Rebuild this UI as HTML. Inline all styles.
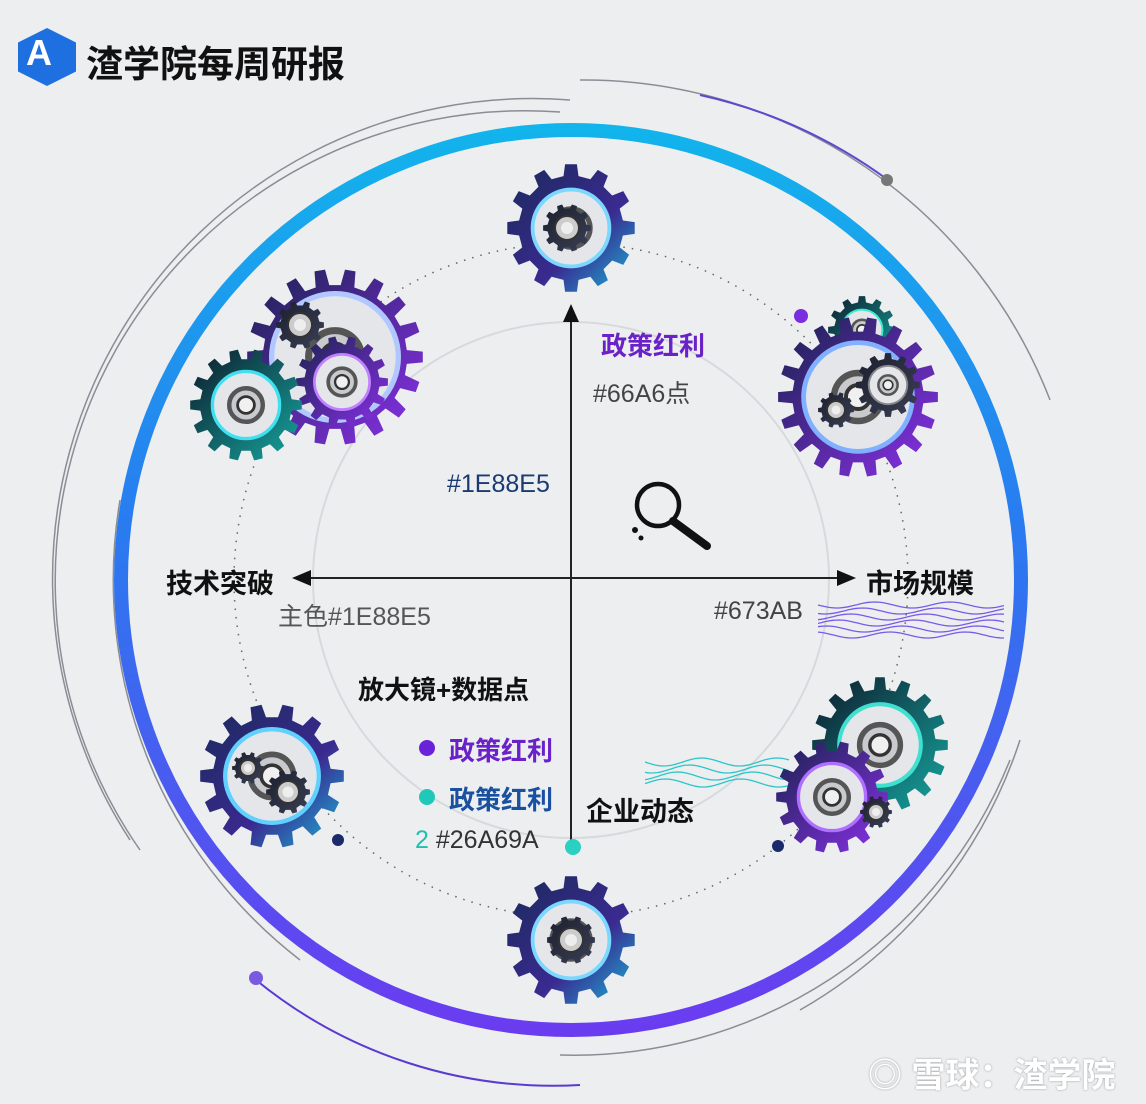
<!DOCTYPE html>
<html><head><meta charset="utf-8">
<style>
html,body{margin:0;padding:0;}
body{width:1146px;height:1104px;overflow:hidden;background:#eceef0;font-family:"Liberation Sans","Noto Sans CJK SC",sans-serif;position:relative;}
svg{position:absolute;left:0;top:0;}
.t{position:absolute;white-space:nowrap;}
.b{font-weight:bold;color:#111;}
</style></head><body>
<svg id="s" width="1146" height="1104" viewBox="0 0 1146 1104">
<defs>
<linearGradient id="ring" x1="0" y1="0" x2="0" y2="1">
<stop offset="0" stop-color="#12b4ec"/><stop offset="0.45" stop-color="#2a7af0"/><stop offset="1" stop-color="#6a3cf0"/>
</linearGradient>
<linearGradient id="ringL" x1="1" y1="0" x2="0" y2="1">
<stop offset="0" stop-color="#1ea0f0"/><stop offset="0.5" stop-color="#3a6af2"/><stop offset="1" stop-color="#7a3cf0"/>
</linearGradient>
<linearGradient id="gp" x1="0" y1="0" x2="1" y2="1"><stop offset="0" stop-color="#1a2250"/><stop offset="1" stop-color="#8a30e8"/></linearGradient>
<linearGradient id="gt" x1="0" y1="0" x2="1" y2="1"><stop offset="0" stop-color="#0d1a2a"/><stop offset="1" stop-color="#16a6a0"/></linearGradient>
<linearGradient id="gb" x1="0" y1="0" x2="1" y2="1"><stop offset="0" stop-color="#1a2a5a"/><stop offset="0.6" stop-color="#3a2a90"/><stop offset="1" stop-color="#19b6d8"/></linearGradient>
<linearGradient id="gd" x1="0" y1="0" x2="1" y2="1"><stop offset="0" stop-color="#1b1f2e"/><stop offset="1" stop-color="#3a3f55"/></linearGradient>
</defs>
<!-- outer thin rings -->
<g fill="none" stroke="#8a8d94" stroke-width="1.5">
<path d="M 140 850 A 470 470 0 0 1 560 112"/>
<path d="M 130 840 A 480 480 0 0 1 570 100"/>
<path d="M 580 80 A 500 500 0 0 1 1050 400"/>
<path d="M 1010 760 A 470 470 0 0 1 560 1055"/>
<path d="M 1020 740 A 485 485 0 0 1 800 1010"/>
<path d="M 120 500 A 480 480 0 0 0 300 960"/>
</g>
<path d="M 700 95 A 500 500 0 0 1 888 180" fill="none" stroke="#5a4ad0" stroke-width="2"/>
<circle cx="887" cy="180" r="6" fill="#777"/>
<path d="M 256 980 A 470 470 0 0 0 580 1085" fill="none" stroke="#5a3ad0" stroke-width="2"/>
<circle cx="256" cy="978" r="7" fill="#7a5ae0"/>
<!-- main ring -->
<circle cx="571" cy="580" r="450" fill="none" stroke="url(#ring)" stroke-width="14"/>
<!-- dotted & faint circles -->
<circle cx="571" cy="580" r="337" fill="none" stroke="#666" stroke-width="1.5" stroke-dasharray="1.5 7"/>
<circle cx="571" cy="580" r="258" fill="none" stroke="#d8d9dc" stroke-width="2"/>
<!-- axes -->
<g stroke="#222" stroke-width="2">
<line x1="571" y1="318" x2="571" y2="845"/>
<line x1="305" y1="578" x2="842" y2="578"/>
</g>
<polygon points="571,304 563,322 579,322" fill="#111"/>
<polygon points="292,578 311,570 311,586" fill="#111"/>
<polygon points="856,578 837,570 837,586" fill="#111"/>
<!-- magnifier -->
<circle cx="658" cy="505" r="21" fill="none" stroke="#111" stroke-width="4.5"/>
<line x1="673" y1="521" x2="707" y2="546" stroke="#111" stroke-width="8" stroke-linecap="round"/>
<circle cx="635" cy="530" r="3" fill="#111"/><circle cx="641" cy="538" r="2.5" fill="#111"/>
<!-- waves -->
<g fill="none" stroke="#7a5ae8" stroke-width="1.3" id="w1"></g>
<g fill="none" stroke="#2cc6c8" stroke-width="1.3" id="w2"></g>
<!-- dots -->
<circle cx="801" cy="316" r="7" fill="#7a2ee0"/>
<circle cx="338" cy="840" r="6" fill="#1a2a6a"/>
<circle cx="778" cy="846" r="6" fill="#1a2a6a"/>
<circle cx="573" cy="847" r="8" fill="#2ad0c0"/>
<circle cx="427" cy="748" r="8" fill="#6a22d8"/>
<circle cx="427" cy="797" r="8" fill="#20c8b8"/>
<g id="gears"></g>
</svg>
<div class="t" style="left:18px;top:28px;width:58px;height:58px;background:#1e6fe0;clip-path:polygon(50% 0,100% 25%,100% 75%,50% 100%,0 75%,0 25%);"></div>
<div class="t" style="left:26px;top:32px;color:#fff;font-size:36px;font-weight:bold;">A</div>
<div class="t b" style="left:86px;top:34px;font-size:37px;">渣学院每周研报</div>
<div class="t" style="left:601px;top:326px;font-size:26px;font-weight:bold;color:#6a22c8;">政策红利</div>
<div class="t" style="left:593px;top:374px;font-size:25px;color:#444;">#66A6点</div>
<div class="t" style="left:447px;top:470px;font-size:25px;color:#1a3a70;">#1E88E5</div>
<div class="t b" style="left:166px;top:562px;font-size:27px;">技术突破</div>
<div class="t" style="left:278px;top:597px;font-size:25px;color:#555;">主色#1E88E5</div>
<div class="t b" style="left:866px;top:562px;font-size:27px;">市场规模</div>
<div class="t" style="left:714px;top:597px;font-size:25px;color:#444;">#673AB</div>
<div class="t b" style="left:358px;top:670px;font-size:26px;">放大镜+数据点</div>
<div class="t" style="left:449px;top:731px;font-size:26px;font-weight:bold;color:#6a22c8;">政策红利</div>
<div class="t" style="left:449px;top:780px;font-size:26px;font-weight:bold;color:#1a50a0;">政策红利</div>
<div class="t b" style="left:586px;top:790px;font-size:27px;">企业动态</div>
<div class="t" style="left:415px;top:826px;font-size:25px;color:#333;"><span style="color:#20c0b0">2</span> #26A69A</div>
<div class="t" style="left:868px;top:1048px;font-size:34px;color:#fff;font-weight:bold;text-shadow:0 0 2px #999;">◎ 雪球：渣学院</div>
<script>
var NS="http://www.w3.org/2000/svg";
function gearPath(cx,cy,R,n){var r1=R*0.82,d="";for(var i=0;i<n;i++){var a=i*2*Math.PI/n,s=Math.PI/n;
var pts=[[a-s*0.55,r1],[a-s*0.35,R],[a+s*0.35,R],[a+s*0.55,r1],[a+s*1.45,r1]];
pts.forEach(function(p,j){d+=(i==0&&j==0?"M":"L")+(cx+p[1]*Math.cos(p[0])).toFixed(1)+" "+(cy+p[1]*Math.sin(p[0])).toFixed(1)+" ";});}
return d+"Z";}
var G=document.getElementById("gears");
function el(t,a){var e=document.createElementNS(NS,t);for(var k in a)e.setAttribute(k,a[k]);G.appendChild(e);return e;}
function gear(cx,cy,R,fill,glow,n,hole){n=n||12;hole=hole||0.6;
el("path",{d:gearPath(cx,cy,R,n),fill:fill});
el("circle",{cx:cx,cy:cy,r:R*hole,fill:"#e4e6ea"});
el("circle",{cx:cx,cy:cy,r:R*hole,fill:"none",stroke:glow,"stroke-width":R*0.06});
el("circle",{cx:cx,cy:cy,r:R*0.3,fill:"#c8cace",stroke:"#555","stroke-width":R*0.08});
el("circle",{cx:cx,cy:cy,r:R*0.15,fill:"#f0f0f0",stroke:"#333","stroke-width":R*0.05});}
function small(cx,cy,R){el("path",{d:gearPath(cx,cy,R,10),fill:"url(#gd)"});el("circle",{cx:cx,cy:cy,r:R*0.5,fill:"#ccc",stroke:"#333","stroke-width":2});el("circle",{cx:cx,cy:cy,r:R*0.25,fill:"#eee"});}
gear(571,228,64,"url(#gb)","#7ad8ff",12);
small(567,228,24);
gear(335,357,88,"url(#gp)","#b0c8ff",18,0.72);
small(300,325,24);
gear(342,382,46,"url(#gp)","#c080ff",14);
gear(246,405,56,"url(#gt)","#40e0f0",14);
gear(862,330,34,"url(#gt)","#40e8d0",12);
gear(858,397,80,"url(#gp)","#80b0ff",18,0.68);
gear(888,385,32,"url(#gd)","#888",12);
small(836,410,18);
gear(272,776,72,"url(#gb)","#60d0ff",14,0.65);
small(248,768,16);small(288,792,22);
gear(880,745,68,"url(#gt)","#40e0d0",16);
gear(832,797,56,"url(#gp)","#b070ff",14);
small(876,812,16);
gear(571,940,64,"url(#gb)","#7ad8ff",12);
small(571,940,24);
function waves(id,x0,x1,y0,n,gap,amp){var g=document.getElementById(id);for(var k=0;k<n;k++){var d="",y=y0+k*gap;for(var x=x0;x<=x1;x+=3){d+=(x==x0?"M":"L")+x+" "+(y+amp*Math.sin((x-x0)/12+k)).toFixed(1)+" ";}
var p=document.createElementNS(NS,"path");p.setAttribute("d",d);g.appendChild(p);}}
waves("w1",818,1005,605,6,6,3);
waves("w2",645,790,762,4,7,4);
</script>
</body></html>
